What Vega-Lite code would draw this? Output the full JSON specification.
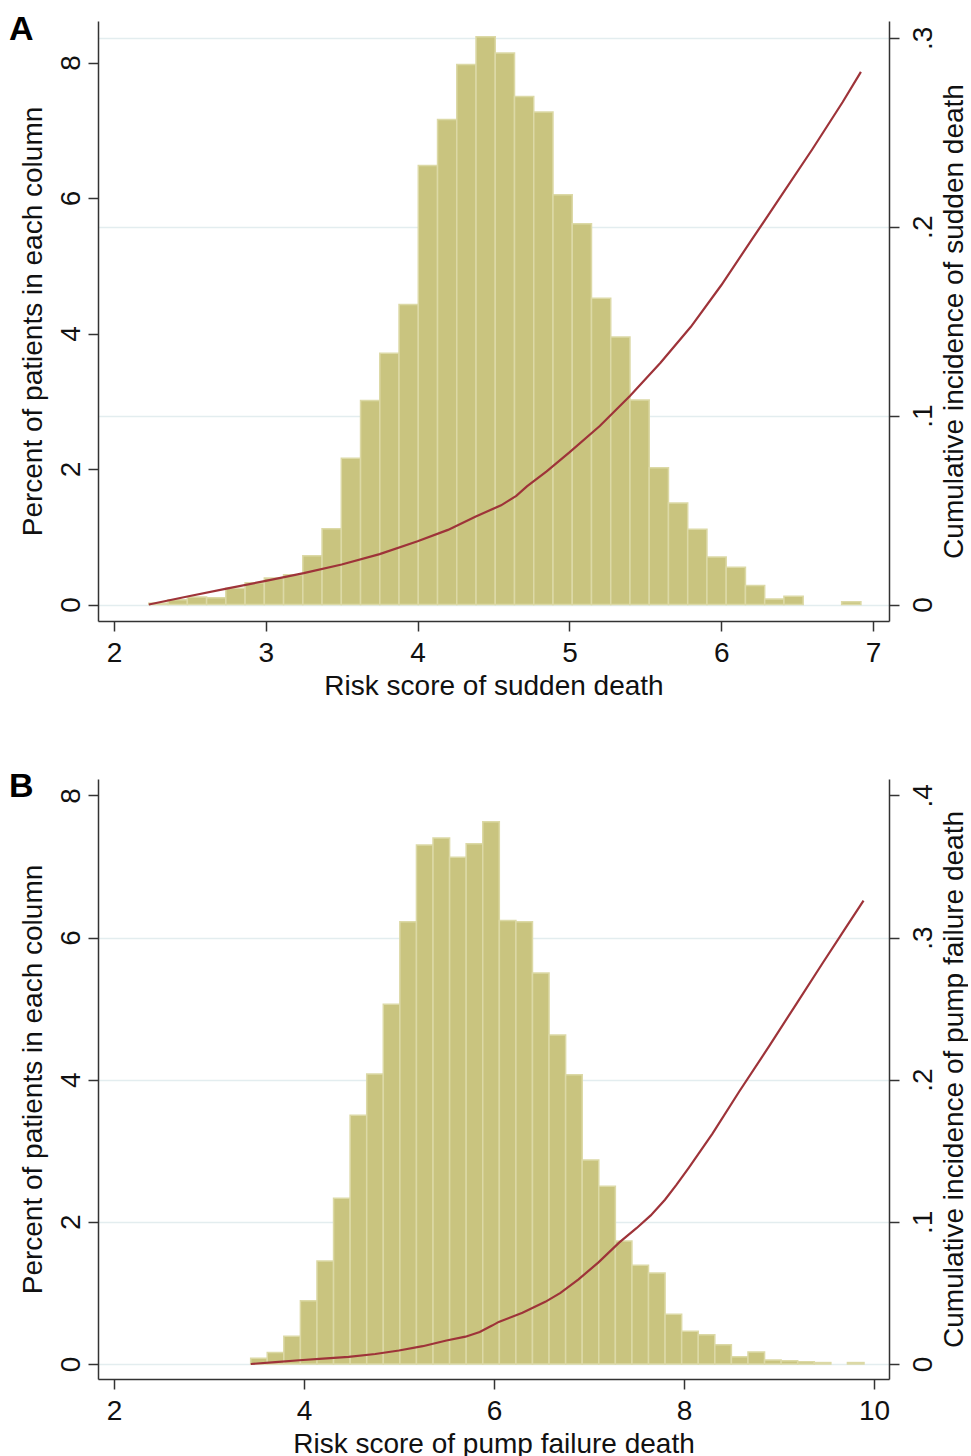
{
  "$schema": "https://vega.github.io/schema/vega-lite/v6.json",
  "padding": {"left": 9, "top": 13, "right": 0, "bottom": 0},
  "background": "white",
  "datasets": {
    "barsA": [
      {"lo": 2.2300, "hi": 2.3568, "pct": 0.02},
      {"lo": 2.3568, "hi": 2.4835, "pct": 0.07},
      {"lo": 2.4835, "hi": 2.6103, "pct": 0.11},
      {"lo": 2.6103, "hi": 2.7370, "pct": 0.10},
      {"lo": 2.7370, "hi": 2.8638, "pct": 0.24},
      {"lo": 2.8638, "hi": 2.9905, "pct": 0.32},
      {"lo": 2.9905, "hi": 3.1173, "pct": 0.39},
      {"lo": 3.1173, "hi": 3.2441, "pct": 0.44},
      {"lo": 3.2441, "hi": 3.3708, "pct": 0.72},
      {"lo": 3.3708, "hi": 3.4976, "pct": 1.12},
      {"lo": 3.4976, "hi": 3.6243, "pct": 2.16},
      {"lo": 3.6243, "hi": 3.7511, "pct": 3.01},
      {"lo": 3.7511, "hi": 3.8778, "pct": 3.71},
      {"lo": 3.8778, "hi": 4.0046, "pct": 4.43},
      {"lo": 4.0046, "hi": 4.1314, "pct": 6.48},
      {"lo": 4.1314, "hi": 4.2581, "pct": 7.16},
      {"lo": 4.2581, "hi": 4.3849, "pct": 7.97},
      {"lo": 4.3849, "hi": 4.5116, "pct": 8.38},
      {"lo": 4.5116, "hi": 4.6384, "pct": 8.14},
      {"lo": 4.6384, "hi": 4.7651, "pct": 7.50},
      {"lo": 4.7651, "hi": 4.8919, "pct": 7.27},
      {"lo": 4.8919, "hi": 5.0186, "pct": 6.05},
      {"lo": 5.0186, "hi": 5.1454, "pct": 5.62},
      {"lo": 5.1454, "hi": 5.2722, "pct": 4.52},
      {"lo": 5.2722, "hi": 5.3989, "pct": 3.95},
      {"lo": 5.3989, "hi": 5.5257, "pct": 3.02},
      {"lo": 5.5257, "hi": 5.6524, "pct": 2.02},
      {"lo": 5.6524, "hi": 5.7792, "pct": 1.50},
      {"lo": 5.7792, "hi": 5.9059, "pct": 1.11},
      {"lo": 5.9059, "hi": 6.0327, "pct": 0.70},
      {"lo": 6.0327, "hi": 6.1595, "pct": 0.55},
      {"lo": 6.1595, "hi": 6.2862, "pct": 0.28},
      {"lo": 6.2862, "hi": 6.4130, "pct": 0.08},
      {"lo": 6.4130, "hi": 6.5397, "pct": 0.12},
      {"lo": 6.7932, "hi": 6.9200, "pct": 0.04}
    ],
    "lineA": [
      {"score": 2.23, "cum": 0},
      {"score": 2.5, "cum": 0.0045},
      {"score": 2.75, "cum": 0.0085},
      {"score": 3.0, "cum": 0.0125},
      {"score": 3.25, "cum": 0.0166},
      {"score": 3.5, "cum": 0.0212},
      {"score": 3.75, "cum": 0.0267},
      {"score": 4.0, "cum": 0.0335},
      {"score": 4.2, "cum": 0.0395},
      {"score": 4.38, "cum": 0.0465},
      {"score": 4.45, "cum": 0.049},
      {"score": 4.55, "cum": 0.0525},
      {"score": 4.65, "cum": 0.0575},
      {"score": 4.72, "cum": 0.0625},
      {"score": 4.85, "cum": 0.0705},
      {"score": 5.0, "cum": 0.0805},
      {"score": 5.2, "cum": 0.0945},
      {"score": 5.4, "cum": 0.1105},
      {"score": 5.6, "cum": 0.128},
      {"score": 5.8, "cum": 0.147},
      {"score": 6.0, "cum": 0.169},
      {"score": 6.2, "cum": 0.193},
      {"score": 6.4, "cum": 0.217},
      {"score": 6.6, "cum": 0.241},
      {"score": 6.8, "cum": 0.266},
      {"score": 6.92, "cum": 0.282}
    ],
    "barsB": [
      {"lo": 3.4390, "hi": 3.6135, "pct": 0.08},
      {"lo": 3.6135, "hi": 3.7880, "pct": 0.16},
      {"lo": 3.7880, "hi": 3.9625, "pct": 0.39},
      {"lo": 3.9625, "hi": 4.1369, "pct": 0.89},
      {"lo": 4.1369, "hi": 4.3114, "pct": 1.45},
      {"lo": 4.3114, "hi": 4.4859, "pct": 2.33},
      {"lo": 4.4859, "hi": 4.6604, "pct": 3.50},
      {"lo": 4.6604, "hi": 4.8349, "pct": 4.08},
      {"lo": 4.8349, "hi": 5.0094, "pct": 5.06},
      {"lo": 5.0094, "hi": 5.1839, "pct": 6.22},
      {"lo": 5.1839, "hi": 5.3583, "pct": 7.30},
      {"lo": 5.3583, "hi": 5.5328, "pct": 7.40},
      {"lo": 5.5328, "hi": 5.7073, "pct": 7.13},
      {"lo": 5.7073, "hi": 5.8818, "pct": 7.32},
      {"lo": 5.8818, "hi": 6.0563, "pct": 7.63},
      {"lo": 6.0563, "hi": 6.2308, "pct": 6.24},
      {"lo": 6.2308, "hi": 6.4053, "pct": 6.22},
      {"lo": 6.4053, "hi": 6.5797, "pct": 5.50},
      {"lo": 6.5797, "hi": 6.7542, "pct": 4.63},
      {"lo": 6.7542, "hi": 6.9287, "pct": 4.07},
      {"lo": 6.9287, "hi": 7.1032, "pct": 2.87},
      {"lo": 7.1032, "hi": 7.2777, "pct": 2.50},
      {"lo": 7.2777, "hi": 7.4522, "pct": 1.73},
      {"lo": 7.4522, "hi": 7.6267, "pct": 1.39},
      {"lo": 7.6267, "hi": 7.8012, "pct": 1.28},
      {"lo": 7.8012, "hi": 7.9756, "pct": 0.70},
      {"lo": 7.9756, "hi": 8.1501, "pct": 0.46},
      {"lo": 8.1501, "hi": 8.3246, "pct": 0.41},
      {"lo": 8.3246, "hi": 8.4991, "pct": 0.27},
      {"lo": 8.4991, "hi": 8.6736, "pct": 0.10},
      {"lo": 8.6736, "hi": 8.8481, "pct": 0.17},
      {"lo": 8.8481, "hi": 9.0226, "pct": 0.056},
      {"lo": 9.0226, "hi": 9.1970, "pct": 0.047},
      {"lo": 9.1970, "hi": 9.3715, "pct": 0.033},
      {"lo": 9.3715, "hi": 9.5460, "pct": 0.02},
      {"lo": 9.7205, "hi": 9.8950, "pct": 0.02}
    ],
    "lineB": [
      {"score": 3.44, "cum": 0},
      {"score": 3.7, "cum": 0.0013},
      {"score": 3.95, "cum": 0.0026},
      {"score": 4.2, "cum": 0.0037},
      {"score": 4.47, "cum": 0.005},
      {"score": 4.75, "cum": 0.007},
      {"score": 5.0, "cum": 0.0095},
      {"score": 5.25, "cum": 0.0125},
      {"score": 5.5, "cum": 0.0165},
      {"score": 5.7, "cum": 0.0192},
      {"score": 5.85, "cum": 0.0225},
      {"score": 5.98, "cum": 0.027},
      {"score": 6.05, "cum": 0.0296},
      {"score": 6.3, "cum": 0.036},
      {"score": 6.54, "cum": 0.0437},
      {"score": 6.7, "cum": 0.050},
      {"score": 6.89, "cum": 0.0595},
      {"score": 7.1, "cum": 0.0715},
      {"score": 7.32, "cum": 0.0855},
      {"score": 7.5, "cum": 0.0955},
      {"score": 7.65, "cum": 0.1045},
      {"score": 7.8, "cum": 0.1155},
      {"score": 7.92, "cum": 0.126},
      {"score": 8.05, "cum": 0.138},
      {"score": 8.3, "cum": 0.162},
      {"score": 8.58, "cum": 0.1915},
      {"score": 8.9, "cum": 0.224},
      {"score": 9.18, "cum": 0.253},
      {"score": 9.45, "cum": 0.281},
      {"score": 9.7, "cum": 0.3066},
      {"score": 9.89, "cum": 0.326}
    ]
  },
  "vconcat": [
    {
      "width": 791,
      "height": 600,
      "title": {"text": "A", "anchor": "start", "frame": "group", "dx": -89, "dy": 34, "offset": -19, "baseline": "alphabetic", "fontSize": 34, "fontWeight": "bold", "font": "Liberation Sans", "color": "#000"},
      "layer": [
        {
          "data": {"name": "barsA"},
          "mark": {"type": "bar", "color": "#c9c47f", "stroke": "#dcd9a6", "strokeWidth": 1.5},
          "encoding": {
            "x": {"field": "lo", "type": "quantitative", "scale": {"domain": [1.895, 7.105], "nice": false, "zero": false},
                  "axis": {"values": [2, 3, 4, 5, 6, 7], "format": "d", "title": "Risk score of sudden death", "grid": false, "labelPadding": 8, "titlePadding": 5, "labelAngle": 0, "labelBaseline": "top", "titleBaseline": "top"}},
            "x2": {"field": "hi"},
            "y": {"field": "pct", "type": "quantitative", "scale": {"domain": [-0.2435, 8.613], "nice": false, "zero": false},
                  "axis": {"values": [0, 2, 4, 6, 8], "title": "Percent of patients in each column", "grid": false, "labelAngle": 270, "labelAlign": "center", "labelBaseline": "alphabetic", "labelPadding": 9, "titleAngle": 270, "titleBaseline": "alphabetic", "titlePadding": 16}},
            "y2": {"datum": 0}
          }
        },
        {
          "data": {"name": "lineA"},
          "mark": {"type": "line", "color": "#9e3339", "strokeWidth": 2.2},
          "encoding": {
            "x": {"field": "score", "type": "quantitative"},
            "y": {"field": "cum", "type": "quantitative", "scale": {"domain": [-0.00873, 0.3089], "nice": false, "zero": false},
                  "axis": {"orient": "right", "values": [0, 0.1, 0.2, 0.3], "labelExpr": "datum.value == 0 ? '0' : slice(format(datum.value, '.1f'), 1)", "title": "Cumulative incidence of sudden death", "grid": true, "gridColor": "#e3edef", "gridWidth": 1.5, "labelAngle": 270, "labelAlign": "center", "labelBaseline": "top", "labelPadding": 10, "titleAngle": 270, "titleBaseline": "top", "titlePadding": 3}}
          }
        }
      ],
      "resolve": {"scale": {"y": "independent"}, "axis": {"y": "independent"}}
    },
    {
      "width": 791,
      "height": 600,
      "title": {"text": "B", "anchor": "start", "frame": "group", "dx": -89, "dy": 34, "offset": -18, "baseline": "alphabetic", "fontSize": 34, "fontWeight": "bold", "font": "Liberation Sans", "color": "#000"},
      "layer": [
        {
          "data": {"name": "barsB"},
          "mark": {"type": "bar", "color": "#c9c47f", "stroke": "#dcd9a6", "strokeWidth": 1.5},
          "encoding": {
            "x": {"field": "lo", "type": "quantitative", "scale": {"domain": [1.832, 10.158], "nice": false, "zero": false},
                  "axis": {"values": [2, 4, 6, 8, 10], "format": "d", "title": "Risk score of pump failure death", "grid": false, "labelPadding": 8, "titlePadding": 5, "labelAngle": 0, "labelBaseline": "top", "titleBaseline": "top"}},
            "x2": {"field": "hi"},
            "y": {"field": "pct", "type": "quantitative", "scale": {"domain": [-0.2114, 8.230], "nice": false, "zero": false},
                  "axis": {"values": [0, 2, 4, 6, 8], "title": "Percent of patients in each column", "grid": false, "labelAngle": 270, "labelAlign": "center", "labelBaseline": "alphabetic", "labelPadding": 9, "titleAngle": 270, "titleBaseline": "alphabetic", "titlePadding": 16}},
            "y2": {"datum": 0}
          }
        },
        {
          "data": {"name": "lineB"},
          "mark": {"type": "line", "color": "#9e3339", "strokeWidth": 2.2},
          "encoding": {
            "x": {"field": "score", "type": "quantitative"},
            "y": {"field": "cum", "type": "quantitative", "scale": {"domain": [-0.01057, 0.4115], "nice": false, "zero": false},
                  "axis": {"orient": "right", "values": [0, 0.1, 0.2, 0.3, 0.4], "labelExpr": "datum.value == 0 ? '0' : slice(format(datum.value, '.1f'), 1)", "title": "Cumulative incidence of pump failure death", "grid": true, "gridColor": {"condition": {"test": "datum.value > 0.35", "value": "transparent"}, "value": "#e3edef"}, "gridWidth": 1.5, "labelAngle": 270, "labelAlign": "center", "labelBaseline": "top", "labelPadding": 10, "titleAngle": 270, "titleBaseline": "top", "titlePadding": 3}}
          }
        }
      ],
      "resolve": {"scale": {"y": "independent"}, "axis": {"y": "independent"}}
    }
  ],
  "spacing": 70,
  "config": {
    "view": {"stroke": null},
    "font": "Liberation Sans",
    "axis": {
      "labelFont": "Liberation Sans", "titleFont": "Liberation Sans",
      "labelFontSize": 28, "titleFontSize": 28, "titleFontWeight": "normal",
      "labelColor": "#111", "titleColor": "#111",
      "domainColor": "#333", "tickColor": "#333", "domainWidth": 1.5, "tickWidth": 1.5, "tickSize": 10,
      "labelOverlap": false, "labelFlush": false
    }
  }
}
